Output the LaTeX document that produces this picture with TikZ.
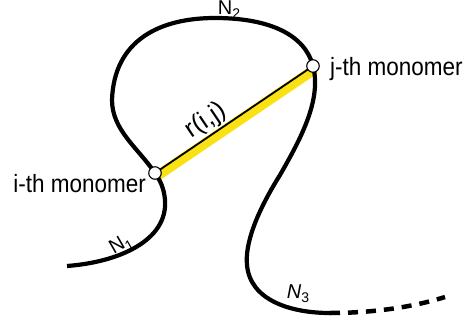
\documentclass[tikz,border=0pt]{standalone}
\usepackage{fontspec}
\setmainfont{Liberation Sans}
\usetikzlibrary{calc}
\definecolor{bandyellow}{RGB}{250,225,20}
\begin{document}
\begin{tikzpicture}[x=1pt,y=-1pt,
  chain/.style={line width=4.2pt},
  tail/.style={line width=4.5pt, dash pattern=on 10pt off 8pt},
  mono/.style={circle, draw, fill=white, line width=1.1pt, minimum size=12.5pt, inner sep=0pt},
  lbl/.style={font=\fontsize{25}{25}\selectfont, inner sep=0pt},
  monolbl/.style={lbl, xscale=0.9},
  nlbl/.style={inner sep=0pt, font=\fontsize{20}{20}\selectfont}]
\useasboundingbox (0,0) rectangle (465,321);
\coordinate (pi) at (155,173);
\coordinate (pj) at (313,66);
\coordinate (s1) at (67,266);
\coordinate (e3) at (330,313);
\coordinate (e4) at (445,297);
% yellow band and distance line
\draw[bandyellow, line width=10pt] ([shift={(2.0,3.0)}]pi) -- ([shift={(2.0,3.0)}]pj);
\draw[line width=1.8pt] (pi) -- (pj);
% chain segments
\draw[chain] (s1) .. controls (120,262) and (168,240) .. (165,200)
  .. controls (164,188) and (160,180) .. (pi);
\draw[chain] (pi) .. controls (138,148) and (112,130) .. (112,100)
  .. controls (114,40) and (160,18) .. (215,18)
  .. controls (270,18) and (305,35) .. (pj);
\draw[chain] (pj) .. controls (322,100) and (300,140) .. (280,175)
  .. controls (255,215) and (245,245) .. (247,265)
  .. controls (250,300) and (290,313) .. (e3);
\draw[tail] (e3) .. controls (380,313) and (420,305) .. (e4);
% monomers
\node[mono] (i) at (pi) {};
\node[mono] (j) at (pj) {};
% labels
\node[monolbl, anchor=base east] (li) at (146,192) {i-th monomer};
\node[monolbl, anchor=base west] (lj) at (330,75) {j-th monomer};
\node[lbl, font=\fontsize{25.5}{25.5}\selectfont, rotate=34] (r) at (206,121) {r(i,j)};
\node[nlbl, rotate=30] (n1) at (121,245) {N\raisebox{-4pt}{\fontsize{14}{14}\selectfont 1}};
\node[nlbl] (n2) at (229,10) {N\raisebox{-4pt}{\fontsize{14}{14}\selectfont 2}};
\node[nlbl] (n3) at (298,294) {\itshape N\raisebox{-4pt}{\upshape\fontsize{14}{14}\selectfont 3}};
\end{tikzpicture}
\end{document}
